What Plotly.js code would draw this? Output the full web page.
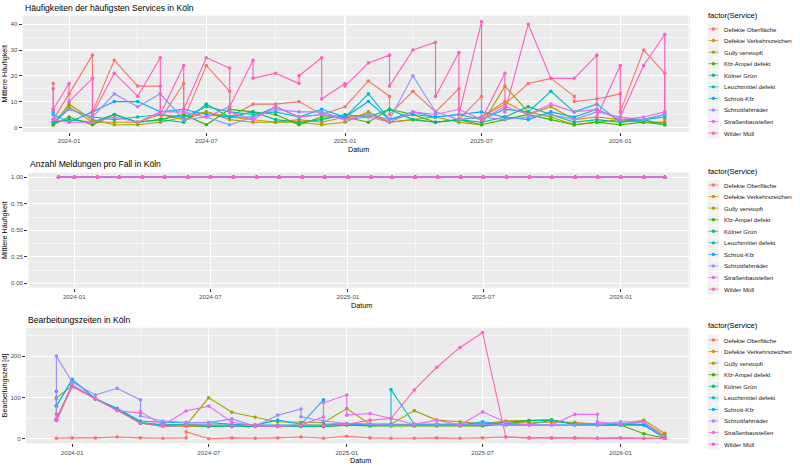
<!DOCTYPE html>
<html>
<head>
<meta charset="utf-8">
<script src="https://cdn.plot.ly/plotly-3.0.1.min.js"></script>
<style>
  html, body { margin: 0; padding: 0; background: #ffffff; }
  #chart { width: 800px; height: 467px; }
</style>
</head>
<body>
<div id="chart"></div>
<script>
// Services (legend order) and their hue colours
const services = [
  'Defekte Oberfläche', 'Defekte Verkehrszeichen', 'Gully verstopft', 'Kfz-Ampel defekt',
  'Kölner Grün', 'Leuchtmittel defekt', 'Schrott-Kfz', 'Schrottfahrräder',
  'Straßenbaustellen', 'Wilder Müll'
];
const farben = [
  '#F8766D', '#D89000', '#A3A500', '#39B600', '#00BF7D',
  '#00BFC4', '#00B0F6', '#9590FF', '#E76BF3', '#FF62BC'
];

// Reporting dates
const datum = [
  '2023-12-11', '2024-01-01', '2024-02-01', '2024-03-01', '2024-04-01', '2024-05-01',
  '2024-06-01', '2024-07-01', '2024-08-01', '2024-09-01', '2024-10-01', '2024-11-01',
  '2024-12-01', '2025-01-01', '2025-02-01', '2025-03-01', '2025-04-01', '2025-05-01',
  '2025-06-01', '2025-07-01', '2025-08-01', '2025-09-01', '2025-10-01', '2025-11-01',
  '2025-12-01', '2026-01-01', '2026-02-01', '2026-03-01'
];

// Mittlere Häufigkeit per service (rows follow `services`); an inner list holds
// several values recorded on the same date
const haeufigkeit = [
  [[17,3],13,[28,6],26,16,[16,3],[17,3],24,[14,4],9,9,10,5,8,18,[12,5],14,6,[15,3],[12,4],9,17,19,[12,10],11,[13,6],30,[21,3]],
  [1,8,2,2,2,5,3,6,4,3,2,3,2,4,5,2,3,2,3,4,10,5,8,3,4,3,2,2],
  [1,9,3,1,1,2,4,6,3,2,2,2,1,2,6,2,3,4,2,1,16,6,4,1,2,3,2,2],
  [1,4,1,5,2,3,5,1,7,6,5,1,4,4,2,7,5,2,3,1,3,5,3,1,2,1,2,1],
  [2,3,2,5,2,3,2,9,4,6,3,2,3,5,4,7,3,2,3,2,4,8,5,2,3,2,3,1],
  [2,7,4,3,4,5,4,8,6,5,6,4,5,4,13,3,6,4,5,3,7,6,14,6,9,2,3,4],
  [[6,5],2,6,10,10,6,7,5,4,4,8,4,7,4,10,3,5,4,5,6,4,3,6,4,7,3,3,5],
  [[7,3],7,4,13,8,13,3,4,1,4,7,6,6,3,5,3,20,6,3,4,3,4,5,3,6,4,3,5],
  [3,2,2,4,2,6,6,4,[8,6],3,8,4,5,3,4,2,6,5,7,3,8,5,9,6,7,3,4,6],
  [[15,7],[17,10],[19,5],21,12,[27,5],[24,7],27,[23,8],[26,19],21,[17,20],[27,11],[17,16],25,[28,16],30,[33,12],[29,5],[41,3],[21,6],40,19,19,[28,4],[24,4],24,[36,6]]
];

// Meldungen pro Fall (identical for every service)
const meldungenProFall = [1,1,1,1,1,1,1,1,1,1,1,1,1,1,1,1,1,1,1,1,1,1,1,1,1,1,1,1];

// Bearbeitungszeit in Tagen per service
const bearbeitungszeit = [
  [1,2,2,4,2,1,[2,17],0,2,1,2,4,1,6,2,1,1,2,1,2,4,2,2,2,1,2,1,1],
  [[97,47],128,97,70,38,33,30,30,30,30,30,30,30,37,35,35,35,35,35,35,40,40,40,40,35,35,40,8],
  [99,128,97,70,38,33,33,99,64,52,41,40,39,73,35,35,68,45,41,36,43,44,45,36,35,35,45,13],
  [47,128,97,70,38,33,33,30,30,30,31,30,30,33,31,31,31,31,31,31,35,44,45,35,33,33,12,1],
  [47,130,97,70,38,30,33,30,30,30,30,30,30,33,33,33,33,33,33,33,40,44,45,35,35,35,33,1],
  [79,144,97,73,40,33,35,33,33,33,33,33,33,35,35,[35,119],35,35,35,35,35,35,44,35,35,35,35,2],
  [[115,79],142,97,73,43,40,39,39,35,33,45,35,[94,35],37,33,33,33,33,33,41,33,33,33,33,33,33,33,3],
  [[45,200],137,106,122,[94,55],43,39,39,48,30,57,[72,53],43,37,35,33,33,33,33,35,33,33,33,33,33,41,40,3],
  [[47,44],130,97,68,[62,65],33,67,79,40,31,30,33,[53,87],[106,57],61,49,35,45,33,65,40,33,33,59,[59,41],35,41,3],
  [[60,44],126,97,69,38,30,33,33,31,33,31,33,32,35,45,49,118,173,221,257,4,2,2,2,1,2,1,1]
];

const W = 800, H = 467;
const FONT = 'Liberation Sans, Arial, Helvetica, sans-serif';
const fx = p => p / W;
const fy = p => 1 - p / H;

// Expand a row (one entry per date, possibly several values) into x/y lists
function reihe(werte) {
  const x = [], y = [];
  werte.forEach((v, i) => {
    (Array.isArray(v) ? v : [v]).forEach(w => { x.push(datum[i]); y.push(w); });
  });
  return { x, y };
}

// Panel geometry in pixels
const panels = [
  { left: 22.7, top: 15.7, bottom: 132.0, yrange: [-1.8, 43.3], dtick: 10, minor: 5, fmt: '',
    ytitle: 'Mittlere Häufigkeit', title: 'Häufigkeiten der häufigsten Services in Köln', titleY: 8,
    xtitleY: 149.5, legendTitleY: 15.7, legendFirstY: 29.0, lineW: 1.15 },
  { left: 28.3, top: 172.7, bottom: 287.7, yrange: [-0.0415, 1.0434], dtick: 0.25, minor: 0.125, fmt: '.2f',
    ytitle: 'Mittlere Häufigkeit', title: 'Anzahl Meldungen pro Fall in Köln', titleY: 164,
    xtitleY: 305, legendTitleY: 171.0, legendFirstY: 185.0, lineW: 1.6 },
  { left: 26.0, top: 327.7, bottom: 443.3, yrange: [-11.1, 268.8], dtick: 100, minor: 50, fmt: '',
    ytitle: 'Bearbeitungszeit [d]', title: 'Bearbeitungszeiten in Köln', titleY: 320,
    xtitleY: 460, legendTitleY: 325.5, legendFirstY: 340.0, lineW: 1.1 }
];
const RIGHT = 690;
const LEG_STEP = 11.57;

const daten = [haeufigkeit, services.map(() => meldungenProFall), bearbeitungszeit];

const traces = [];
daten.forEach((rows, p) => {
  rows.forEach((row, s) => {
    const r = reihe(row);
    traces.push({
      type: 'scatter', mode: 'lines+markers',
      x: r.x, y: r.y,
      xaxis: p === 0 ? 'x' : 'x' + (p + 1),
      yaxis: p === 0 ? 'y' : 'y' + (p + 1),
      name: services[s], showlegend: false,
      line: { color: farben[s], width: panels[p].lineW, simplify: false },
      marker: { color: farben[s], size: 3.6, line: { width: 0 } },
      hoverinfo: 'skip'
    });
  });
});

const layout = {
  width: W, height: H,
  margin: { l: 0, r: 0, t: 0, b: 0 },
  paper_bgcolor: '#ffffff',
  plot_bgcolor: '#EBEBEB',
  font: { family: FONT, color: '#000000' },
  showlegend: false,
  shapes: [],
  annotations: []
};

panels.forEach((pn, p) => {
  const sfx = p === 0 ? '' : String(p + 1);
  layout['xaxis' + sfx] = {
    type: 'date',
    domain: [fx(pn.left), fx(RIGHT)],
    anchor: 'y' + sfx,
    range: ['2023-10-31 12:00', '2026-04-03 12:00'],
    tick0: '2024-01-01', dtick: 'M6', tickformat: '%Y-%m',
    ticks: 'outside', ticklen: 3, tickwidth: 1, tickcolor: '#333333',
    tickfont: { size: 6.2, color: '#4D4D4D', family: FONT },
    showgrid: true, gridcolor: '#ffffff', gridwidth: 1.1,
    minor: { tick0: '2024-01-01', dtick: 'M3', showgrid: true, gridcolor: '#ffffff', gridwidth: 0.55, ticks: '' },
    zeroline: false, showline: false, automargin: false
  };
  layout['yaxis' + sfx] = {
    domain: [fy(pn.bottom), fy(pn.top)],
    anchor: 'x' + sfx,
    range: pn.yrange,
    tick0: 0, dtick: pn.dtick, tickformat: pn.fmt,
    ticks: 'outside', ticklen: 3, tickwidth: 1, tickcolor: '#333333',
    tickfont: { size: 6.2, color: '#4D4D4D', family: FONT },
    showgrid: true, gridcolor: '#ffffff', gridwidth: 1.1,
    minor: { tick0: 0, dtick: pn.minor, showgrid: true, gridcolor: '#ffffff', gridwidth: 0.55, ticks: '' },
    zeroline: false, showline: false, automargin: false,
    title: { text: pn.ytitle, font: { size: 7.2, color: '#000000', family: FONT }, standoff: 2 }
  };

  // Panel title
  layout.annotations.push({
    xref: 'paper', yref: 'paper', x: fx(pn.left), y: fy(pn.titleY),
    xanchor: 'left', yanchor: 'middle', showarrow: false,
    text: pn.title, font: { size: 8.6, color: '#000000', family: FONT }
  });

  // x-axis title centred below the panel
  layout.annotations.push({
    xref: 'paper', yref: 'paper', x: fx((pn.left + RIGHT) / 2 + 2), y: fy(pn.xtitleY),
    xanchor: 'center', yanchor: 'middle', showarrow: false,
    text: 'Datum', font: { size: 7.2, color: '#000000', family: FONT }
  });

  // Legend block beside the panel
  layout.annotations.push({
    xref: 'paper', yref: 'paper', x: fx(706), y: fy(pn.legendTitleY),
    xanchor: 'left', yanchor: 'middle', showarrow: false,
    text: 'factor(Service)', font: { size: 7.6, color: '#000000', family: FONT }
  });
  services.forEach((name, s) => {
    const cy = pn.legendFirstY + s * LEG_STEP;
    layout.shapes.push({
      type: 'rect', xref: 'paper', yref: 'paper',
      x0: fx(707.2), x1: fx(719.6), y0: fy(cy + LEG_STEP / 2), y1: fy(cy - LEG_STEP / 2),
      fillcolor: '#F2F2F2', line: { color: '#ffffff', width: 0.5 }, layer: 'above'
    });
    layout.shapes.push({
      type: 'line', xref: 'paper', yref: 'paper',
      x0: fx(708.6), x1: fx(718.2), y0: fy(cy), y1: fy(cy),
      line: { color: farben[s], width: 0.8 }, layer: 'above'
    });
    layout.shapes.push({
      type: 'circle', xref: 'paper', yref: 'paper',
      x0: fx(711.7), x1: fx(715.1), y0: fy(cy + 1.7), y1: fy(cy - 1.7),
      fillcolor: farben[s], line: { color: farben[s], width: 0 }, layer: 'above'
    });
    layout.annotations.push({
      xref: 'paper', yref: 'paper', x: fx(722), y: fy(cy),
      xanchor: 'left', yanchor: 'middle', showarrow: false,
      text: name, font: { size: 6.1, color: '#1A1A1A', family: FONT }
    });
  });
});

Plotly.newPlot('chart', traces, layout, { staticPlot: true, displayModeBar: false });
</script>
</body>
</html>
